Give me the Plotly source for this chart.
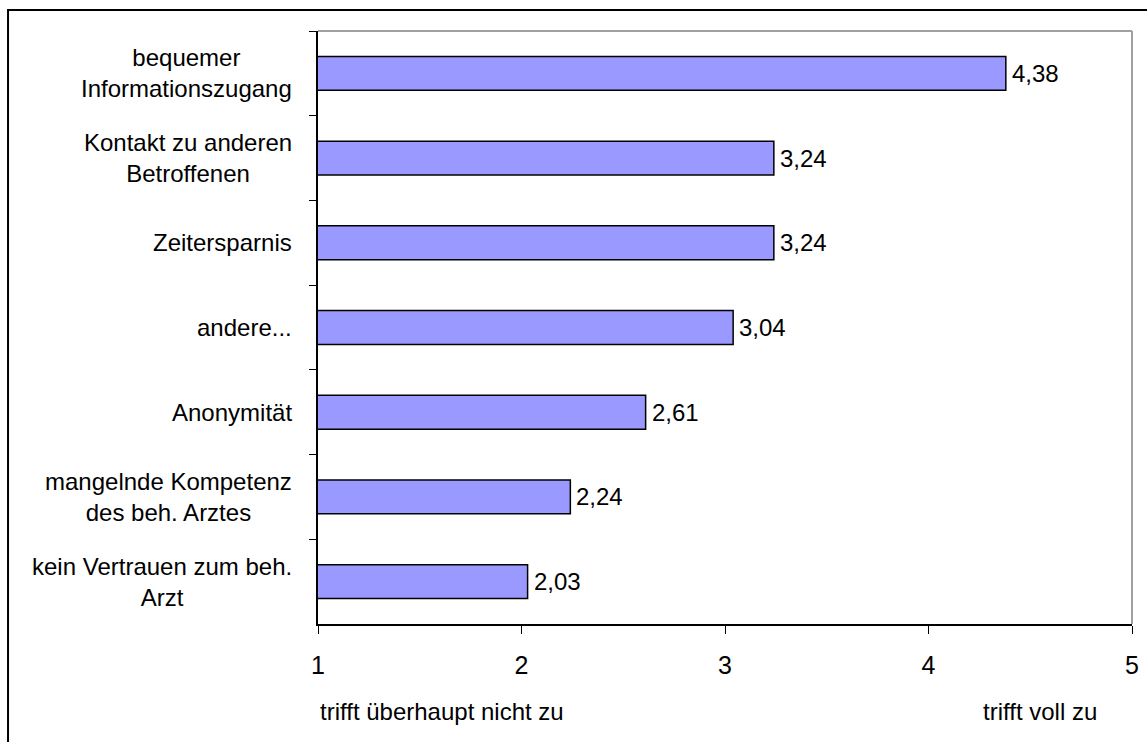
import plotly.graph_objects as go

# Reasons for using online health forums, mean agreement on a 1-5 scale
categories = [
    "bequemer<br>Informationszugang",
    "Kontakt zu anderen<br>Betroffenen",
    "Zeitersparnis",
    "andere...",
    "Anonymität",
    "mangelnde Kompetenz<br>des beh. Arztes",
    "kein Vertrauen zum beh.<br>Arzt",
]
means = [4.38, 3.24, 3.24, 3.04, 2.61, 2.24, 2.03]
x_ticks = [1, 2, 3, 4, 5]
scale_low = "trifft überhaupt nicht zu"
scale_high = "trifft voll zu"

FONT = "Liberation Sans, Arial, sans-serif"
TXT = 24

fig = go.Figure()
fig.add_trace(go.Bar(
    y=categories,
    x=means,
    orientation="h",
    width=0.4,
    marker=dict(color="#9999FF", line=dict(color="black", width=1.5)),
    hoverinfo="skip",
))

annotations = []
# Category labels: right-aligned block, lines centred within it
for cat in categories:
    annotations.append(dict(
        x=0, xref="paper", y=cat, yref="y",
        text=cat, showarrow=False,
        xanchor="right", yanchor="middle", align="center",
        xshift=-24,
        font=dict(family=FONT, size=TXT, color="black"),
    ))

# Value labels at the end of each bar
for cat, v in zip(categories, means):
    annotations.append(dict(
        x=v, xref="x", y=cat, yref="y",
        text=f"{v:.2f}".replace(".", ","), showarrow=False,
        xanchor="left", yanchor="middle", xshift=4,
        font=dict(family=FONT, size=TXT, color="black"),
    ))

# Scale end descriptions under the axis
annotations.append(dict(
    x=0, xref="paper", y=-0.148, yref="paper",
    text=scale_low, showarrow=False, xanchor="left", yanchor="middle",
    font=dict(family=FONT, size=TXT, color="black"),
))
annotations.append(dict(
    x=0.887, xref="paper", y=-0.148, yref="paper",
    text=scale_high, showarrow=False, xanchor="center", yanchor="middle",
    font=dict(family=FONT, size=TXT, color="black"),
))

shapes = [
    # plot-area border (top and right)
    dict(type="line", xref="paper", yref="paper", x0=0, y0=1, x1=1, y1=1,
         line=dict(color="#A0A0A0", width=2), layer="below"),
    dict(type="line", xref="paper", yref="paper", x0=1, y0=0, x1=1, y1=1,
         line=dict(color="#A0A0A0", width=2), layer="below"),
    # outer chart frame
    dict(type="rect", xref="paper", yref="paper",
         x0=-0.3808, y0=1.0354, x1=1.2, y1=-0.4,
         line=dict(color="black", width=2), fillcolor="rgba(0,0,0,0)"),
]

fig.update_layout(
    width=1147, height=742,
    margin=dict(l=318, r=15, t=31, b=118, autoexpand=False),
    paper_bgcolor="white", plot_bgcolor="white",
    showlegend=False,
    font=dict(family=FONT, color="black"),
    annotations=annotations,
    shapes=shapes,
)
fig.update_xaxes(
    range=[1, 5],
    tickvals=x_ticks,
    ticktext=[str(t) for t in x_ticks],
    ticks="outside", ticklen=8, tickcolor="black", tickwidth=1,
    showline=True, linecolor="black", linewidth=1.5,
    showgrid=False, zeroline=False,
    tickfont=dict(family=FONT, size=25, color="black"),
    ticklabelstandoff=10,
)
fig.update_yaxes(
    categoryorder="array", categoryarray=categories,
    autorange="reversed",
    tickson="boundaries",
    ticks="outside", ticklen=7, tickcolor="black", tickwidth=1,
    showticklabels=False,
    showline=True, linecolor="black", linewidth=1.5,
    showgrid=False, zeroline=False,
)

fig.write_html("out.html")
